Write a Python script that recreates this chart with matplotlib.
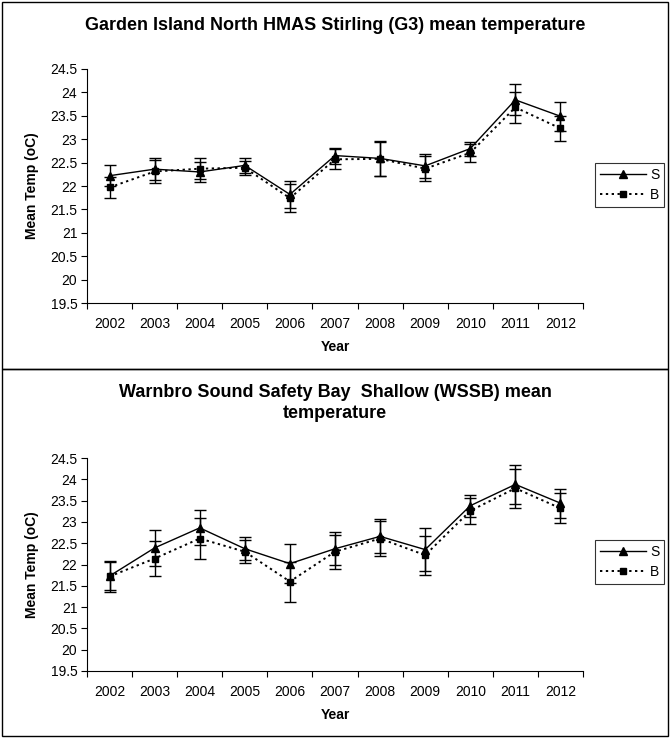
import matplotlib
matplotlib.use("Agg")
import matplotlib.pyplot as plt
from matplotlib.patches import Rectangle
from matplotlib.lines import Line2D
import numpy as np

plt.rcParams['font.family'] = ['Liberation Sans', 'DejaVu Sans']

years = ['2002', '2003', '2004', '2005', '2006', '2007', '2008', '2009', '2010', '2011', '2012']
yticks = [19.5, 20, 20.5, 21, 21.5, 22, 22.5, 23, 23.5, 24, 24.5]
ytick_labels = ['19.5', '20', '20.5', '21', '21.5', '22', '22.5', '23', '23.5', '24', '24.5']

title1 = 'Garden Island North HMAS Stirling (G3) mean temperature'
s1 = [22.22, 22.36, 22.30, 22.44, 21.82, 22.65, 22.59, 22.43, 22.80, 23.84, 23.49]
s1_err = [0.23, 0.23, 0.22, 0.16, 0.29, 0.17, 0.38, 0.25, 0.15, 0.33, 0.31]
b1 = [21.97, 22.31, 22.37, 22.39, 21.74, 22.57, 22.58, 22.37, 22.71, 23.68, 23.23]
b1_err = [0.22, 0.24, 0.22, 0.15, 0.30, 0.21, 0.37, 0.27, 0.19, 0.33, 0.27]

title2 = 'Warnbro Sound Safety Bay  Shallow (WSSB) mean\ntemperature'
s2 = [21.73, 22.39, 22.86, 22.37, 22.02, 22.37, 22.66, 22.35, 23.38, 23.88, 23.44]
s2_err = [0.33, 0.42, 0.41, 0.27, 0.45, 0.39, 0.40, 0.50, 0.26, 0.45, 0.34]
b2 = [21.72, 22.14, 22.61, 22.30, 21.60, 22.30, 22.61, 22.22, 23.26, 23.79, 23.32]
b2_err = [0.37, 0.42, 0.47, 0.27, 0.47, 0.40, 0.40, 0.46, 0.30, 0.46, 0.35]

series_names = ['S', 'B']

W, H = 670, 738
fig = plt.figure(figsize=(W / 100, H / 100), dpi=100)


def fx(px):
    return px / W


def fy(py):
    return 1 - py / H


# panel borders
for (top, bot) in [(2, 369), (369, 736)]:
    fig.patches.append(Rectangle((fx(2), fy(bot)), fx(666), (bot - top) / H,
                                 transform=fig.transFigure, fill=False,
                                 edgecolor='black', linewidth=1.0))


def draw_panel(ax_top, ax_bot, title, title_y, s, s_err, b, b_err, legend_cy):
    ax = fig.add_axes([fx(87), fy(ax_bot), fx(583 - 87), (ax_bot - ax_top) / H])
    x = np.arange(len(years))
    ax.errorbar(x, s, yerr=s_err, color='black', linestyle='-', linewidth=1.0,
                marker='^', markersize=6, elinewidth=1.0, capsize=4, capthick=1.0,
                label=series_names[0], zorder=3)
    ax.errorbar(x, b, yerr=b_err, color='black', linestyle=(0, (1.2, 1.8)), linewidth=1.4,
                marker='s', markersize=5, elinewidth=1.0, capsize=4, capthick=1.0,
                label=series_names[1], zorder=3)
    ax.set_xlim(-0.5, len(years) - 0.5)
    ax.set_ylim(19.5, 24.5)
    ax.set_yticks(yticks)
    ax.set_yticklabels(ytick_labels, fontsize=10)
    ax.set_xticks(x)
    ax.set_xticklabels(years, fontsize=10)
    ax.set_xticks(np.arange(-0.5, len(years), 1.0), minor=True)
    ax.tick_params(axis='x', which='major', length=0, pad=10)
    ax.tick_params(axis='x', which='minor', length=4, width=0.8, direction='out')
    ax.tick_params(axis='y', which='major', length=4, width=0.8, direction='out', pad=3)
    for sp in ['top', 'right']:
        ax.spines[sp].set_visible(False)
    for sp in ['left', 'bottom']:
        ax.spines[sp].set_linewidth(0.8)
    fig.text(fx(335), fy(title_y), title, ha='center', va='center', fontsize=13,
             fontweight='bold', linespacing=1.32)
    fig.text(fx(335), fy(ax_bot + 44), 'Year', ha='center', va='center',
             fontsize=10, fontweight='bold')
    fig.text(fx(32), fy((ax_top + ax_bot) / 2), 'Mean Temp (oC)', ha='center', va='center',
             rotation=90, fontsize=10, fontweight='bold')
    handles = [Line2D([], [], color='black', linestyle='-', linewidth=1.0, marker='^', markersize=6),
               Line2D([], [], color='black', linestyle=(0, (1.2, 1.8)), linewidth=1.4, marker='s', markersize=5)]
    leg = fig.legend(handles, series_names, loc='center left',
                     bbox_to_anchor=(fx(595), fy(legend_cy)), bbox_transform=fig.transFigure,
                     fontsize=10, frameon=True, fancybox=False, handlelength=3.3,
                     handletextpad=0.3, borderpad=0.35, labelspacing=0.45, borderaxespad=0)
    leg.get_frame().set_edgecolor('black')
    leg.get_frame().set_linewidth(0.8)
    return ax


draw_panel(69, 303, title1, 25, s1, s1_err, b1, b1_err, 185)
draw_panel(458, 671, title2, 403, s2, s2_err, b2, b2_err, 562)

fig.savefig('out.png', dpi=100)
